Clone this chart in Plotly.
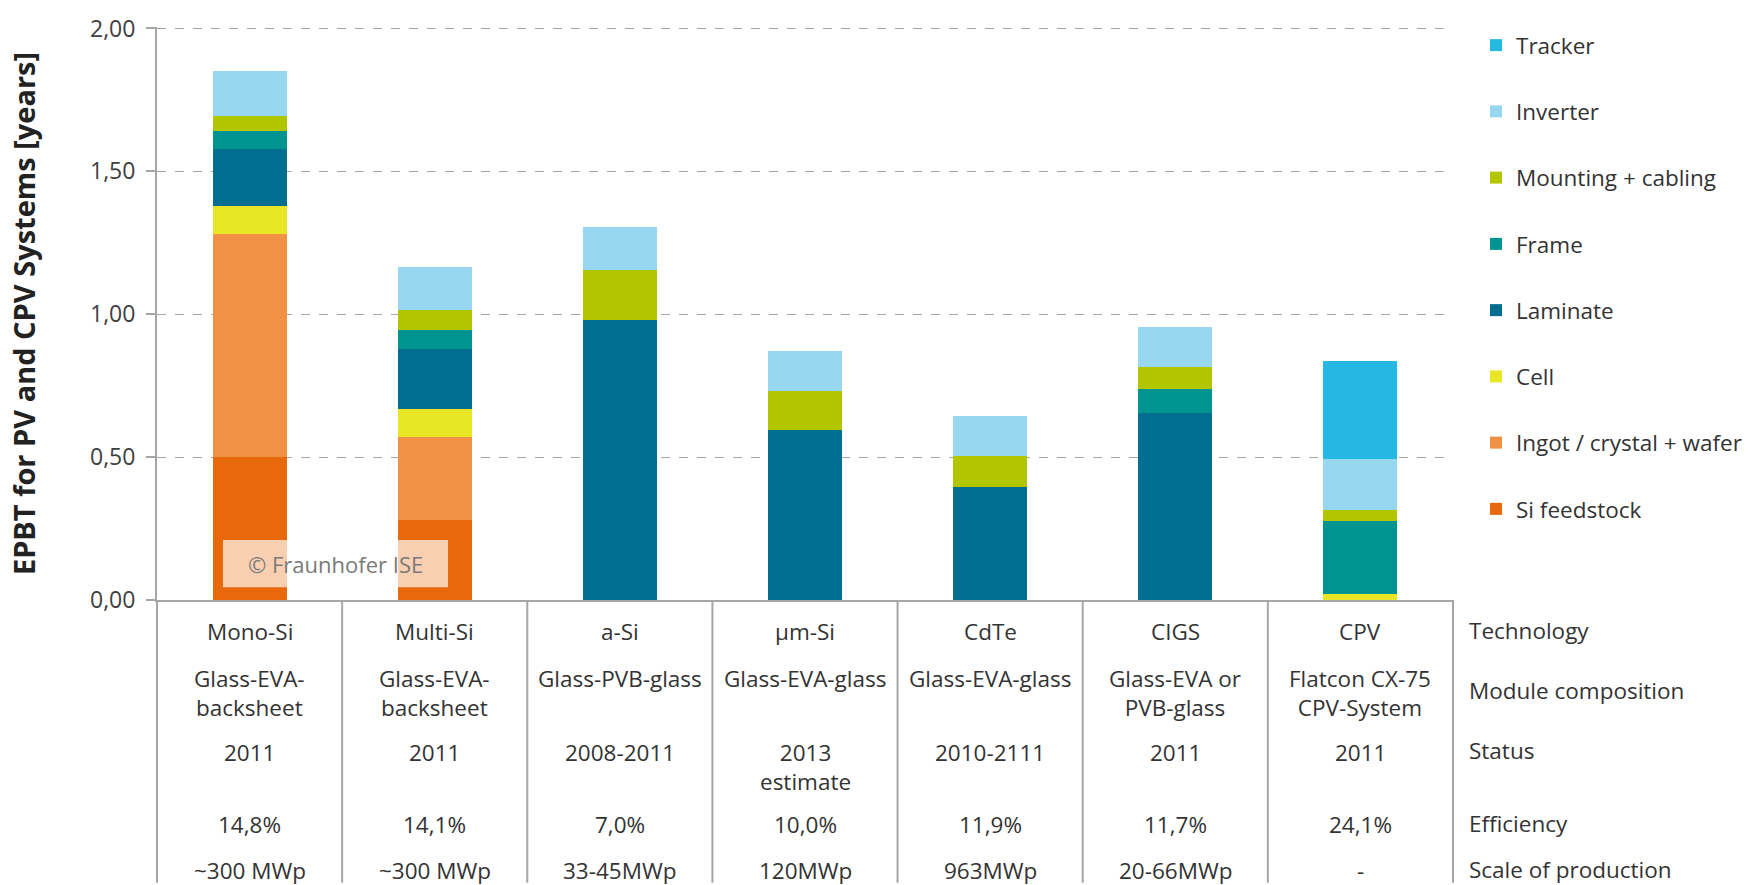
import plotly.graph_objects as go

categories = ["Mono-Si", "Multi-Si", "a-Si", "µm-Si", "CdTe", "CIGS", "CPV"]

si_feedstock = [0.50, 0.28, 0, 0, 0, 0, 0]
ingot_wafer = [0.78, 0.29, 0, 0, 0, 0, 0]
cell = [0.10, 0.10, 0, 0, 0, 0, 0.02]
laminate = [0.20, 0.21, 0.98, 0.595, 0.395, 0.655, 0]
frame = [0.06, 0.065, 0, 0, 0, 0.085, 0.255]
mounting = [0.055, 0.07, 0.175, 0.135, 0.11, 0.075, 0.04]
inverter = [0.155, 0.15, 0.15, 0.14, 0.14, 0.14, 0.18]
tracker = [0, 0, 0, 0, 0, 0, 0.34]

series = [
    ("Si feedstock", si_feedstock, "#E8690B"),
    ("Ingot / crystal + wafer", ingot_wafer, "#F19145"),
    ("Cell", cell, "#E9E626"),
    ("Laminate", laminate, "#006E91"),
    ("Frame", frame, "#009490"),
    ("Mounting + cabling", mounting, "#B2C600"),
    ("Inverter", inverter, "#97D7EF"),
    ("Tracker", tracker, "#25B8E2"),
]

module_composition = ["Glass-EVA-<br>backsheet", "Glass-EVA-<br>backsheet", "Glass-PVB-glass",
                      "Glass-EVA-glass", "Glass-EVA-glass", "Glass-EVA or<br>PVB-glass",
                      "Flatcon CX-75<br>CPV-System"]
status = ["2011", "2011", "2008-2011", "2013<br>estimate", "2010-2111", "2011", "2011"]
efficiency = ["14,8%", "14,1%", "7,0%", "10,0%", "11,9%", "11,7%", "24,1%"]
scale = ["~300 MWp", "~300 MWp", "33-45MWp", "120MWp", "963MWp", "20-66MWp", "-"]
row_labels = ["Technology", "Module composition", "Status", "Efficiency", "Scale of production"]

W, H = 1757, 885
L, R, B = 157, 1453, 600
Y0PX, Y2PX = 600, 20          # pixel rows of y=0 and y=2
PPU = (Y0PX - Y2PX) / 2.0     # pixels per unit
YMAX = 2 + 1.5 / PPU          # tiny headroom so the 2,00 gridline is drawn
T = Y0PX - YMAX * PPU
pw, ph = R - L, B - T


def px_y(p):
    return (B - p) / ph


def px_x(p):
    return (p - L) / pw


FONT = "Open Sans, Noto Sans, DejaVu Sans, sans-serif"
GRID = "#a6a6a6"
TXT = "#333333"

fig = go.Figure()
nser = len(series)
for i, (name, vals, color) in enumerate(series):
    fig.add_trace(go.Bar(
        x=categories, y=vals, name=name, marker_color=color,
        marker_line_width=0, legendgroup=name, legendrank=(nser - i) * 10,
    ))

fig.update_layout(
    width=W, height=H,
    margin=dict(l=L, r=W - R, t=T, b=H - B, pad=0),
    barmode="stack", bargap=0.6,
    plot_bgcolor="white", paper_bgcolor="white",
    separators=", ",
    font=dict(family=FONT, size=22, color=TXT),
    showlegend=True,
    legend=dict(
        x=1476 / W, xref="container", xanchor="left",
        y=1 - 24 / H, yref="container", yanchor="top",
        traceorder="grouped", tracegroupgap=34, maxheight=860,
        font=dict(size=22.5, color=TXT), bgcolor="rgba(0,0,0,0)",
        itemclick=False,
    ),
)

fig.update_yaxes(
    range=[0, YMAX], tickvals=[0, 0.5, 1, 1.5, 2], tickformat=".2f",
    showgrid=True, gridcolor=GRID, griddash="dash", gridwidth=1.3,
    showline=True, linecolor=GRID, linewidth=2,
    ticks="outside", ticklen=9, tickcolor=GRID, tickwidth=1.5,
    ticklabelstandoff=6,
    tickfont=dict(size=23, color="#404040"),
    zeroline=False,
    title=dict(text="<b>EPBT for PV and CPV Systems [years]</b>",
               font=dict(size=29, color="#222222"), standoff=46),
)
fig.update_xaxes(
    showticklabels=False, showline=True, linecolor=GRID, linewidth=2,
    ticks="", showgrid=False, range=[-0.5, len(categories) - 0.5],
)

# Table grid lines
n = len(categories)
for k in range(n + 1):
    fig.add_shape(type="line", xref="paper", yref="paper",
                  x0=k / n, x1=k / n, y0=0, y1=px_y(H + 2),
                  line=dict(color=GRID, width=2), layer="above")

CELL_FS = 22.5


def cell_top(center_px):
    return px_y(center_px - 16.5)


rows = [
    (categories, 631),
    (module_composition, 678),
    (status, 753),
    (efficiency, 827),
    (scale, 873),
]
for values, cy in rows:
    for cat, txt in zip(categories, values):
        fig.add_annotation(x=cat, xref="x", y=cell_top(cy), yref="paper",
                           text=txt, showarrow=False, xanchor="center", yanchor="top",
                           font=dict(size=CELL_FS, color=TXT), align="center")

label_centers = [631, 692, 753, 827, 873]
for lab, cy in zip(row_labels, label_centers):
    fig.add_annotation(x=px_x(1467), xref="paper", y=px_y(cy), yref="paper",
                       text=lab, showarrow=False, xanchor="left", yanchor="middle",
                       font=dict(size=CELL_FS, color=TXT))

# Watermark
fig.add_shape(type="rect", xref="paper", yref="paper",
              x0=px_x(223), x1=px_x(448), y0=px_y(587), y1=px_y(539),
              fillcolor="rgba(255,255,255,0.68)", line=dict(width=0), layer="above")
fig.add_annotation(x=px_x(335), xref="paper", y=px_y(563), yref="paper",
                   text="© Fraunhofer ISE", showarrow=False,
                   font=dict(size=22, color="#7a7a7a"), xanchor="center", yanchor="middle")

fig.write_html("out.html", config={"displayModeBar": False},
               post_script="document.body.style.margin='0';")
